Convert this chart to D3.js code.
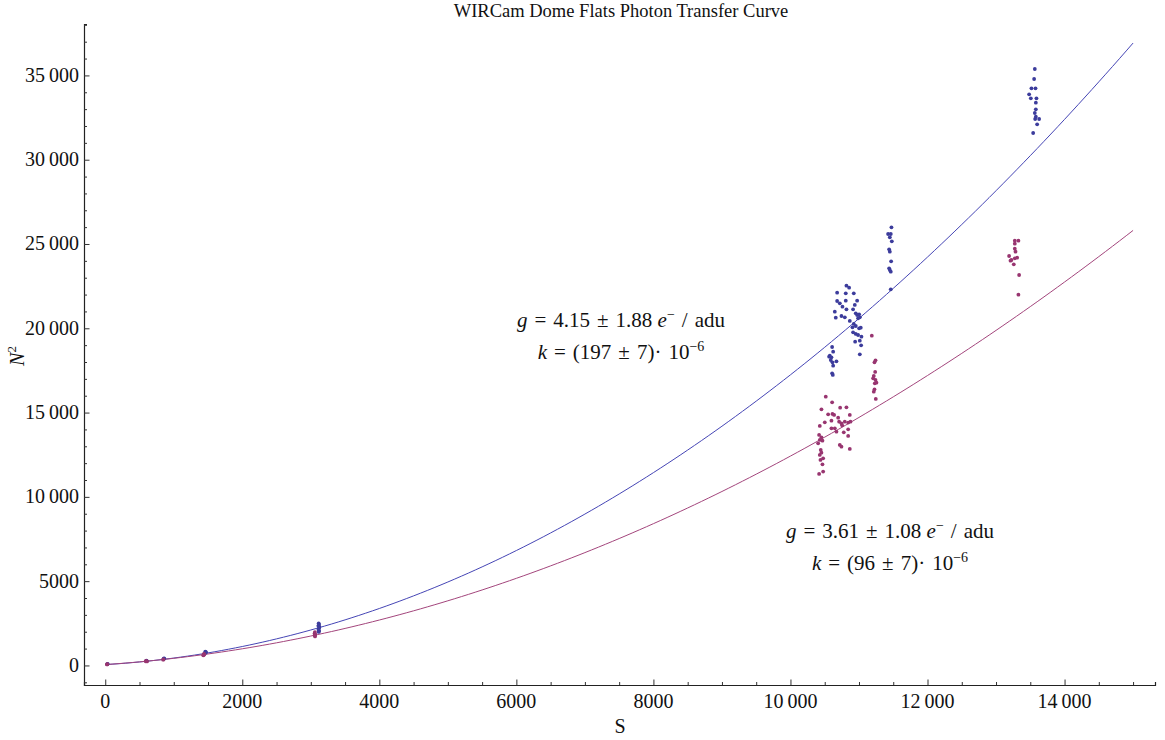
<!DOCTYPE html>
<html>
<head>
<meta charset="utf-8">
<script src="https://cdn.jsdelivr.net/npm/d3@7"></script>
<style>
  body { margin: 0; background: #fff; }
  text { font-family: "Liberation Serif", "Times New Roman", serif; fill: #111; }
</style>
</head>
<body>
<div id="chart"></div>
<script>
// chart values
const xTicks = [0, 2000, 4000, 6000, 8000, 10000, 12000, 14000];
const yTicks = [0, 5000, 10000, 15000, 20000, 25000, 30000, 35000];

// fitted curves: N^2 = offset + S/g + q*S^2
const blueFit = {offset: 50, g: 4.15, q: 1.478e-4};
const redFit = {offset: 50, g: 3.61, q: 96e-6};

// [S, N^2]
const bluePoints = [
  [30, 80], [35, 95], [605, 270], [600, 290], [850, 380], [860, 420], [855, 400],
  [1460, 820], [1465, 770], [1455, 720], [1470, 790],
  [3115, 2500], [3120, 2420], [3110, 2350], [3125, 2280], [3118, 2200], [3112, 2120], [3122, 2050], [3115, 1990],
  [10608, 18891], [10623, 18615], [10564, 18318], [10598, 18279], [10574, 18377], [10588, 18120],
  [10613, 17982], [10671, 18041], [10623, 17784], [10608, 17330], [10618, 17231],
  [10817, 22529], [10856, 22411], [10681, 22114], [10807, 22074], [10924, 22074], [10681, 21620],
  [10720, 21481], [10807, 21640], [10973, 21640], [10647, 20987], [10759, 21284], [10817, 21126],
  [10914, 21126], [10939, 21383], [10744, 20730], [10793, 20651], [10661, 20631], [10866, 20434],
  [10953, 20888], [10973, 20789], [11002, 20829], [11012, 20651], [10987, 20592], [10924, 20256],
  [10905, 20058], [10953, 20137], [11002, 19999], [11026, 20038], [10914, 19761], [10953, 19663],
  [10987, 19603], [11036, 19505], [10944, 19208], [11012, 19267], [11031, 18990], [11012, 18457],
  [11474, 25989], [11425, 25594], [11464, 25594], [11450, 25396], [11479, 25159], [11440, 24684],
  [11450, 24546], [11469, 23972], [11440, 23557], [11450, 23458], [11464, 23360], [11464, 22312],
  [13566, 35380], [13556, 34787], [13517, 34233], [13576, 34233], [13483, 33878], [13508, 33640],
  [13590, 33640], [13581, 33383], [13581, 32988], [13566, 32770], [13581, 32553], [13571, 32415],
  [13629, 32415], [13600, 32098], [13542, 31584]
];

const redPoints = [
  [30, 70], [25, 60], [600, 260], [610, 240], [590, 250], [850, 360], [845, 340],
  [1440, 680], [1435, 620], [1445, 650], [1430, 600],
  [3060, 1980], [3055, 1900], [3065, 1840], [3058, 1780], [3062, 1720],
  [11187, 19564], [11241, 18101], [11226, 17982], [11236, 17409], [11216, 17171], [11206, 17033],
  [11241, 16934], [11231, 16737], [11255, 16776], [11226, 16381], [11216, 16242], [11245, 15807],
  [10515, 15946], [10608, 15610], [10452, 15194], [10725, 15293], [10817, 15313], [10550, 14898],
  [10613, 14918], [10637, 14858], [10696, 14700], [10866, 14858], [10598, 14522], [10501, 14423],
  [10428, 14206], [10710, 14463], [10744, 14364], [10793, 14463], [10842, 14404], [10876, 14463],
  [10754, 14246], [10647, 14068], [10598, 14068], [10842, 14008], [10671, 13870], [10778, 13831],
  [10418, 13672], [10452, 13534], [10842, 13613], [10428, 13376], [10467, 13336], [10404, 13178],
  [10720, 13079], [10744, 12980], [10866, 12842], [10442, 12783], [10452, 12624], [10428, 12486],
  [10477, 12288], [10438, 12189], [10467, 11933], [10477, 11498], [10418, 11359],
  [13274, 25199], [13327, 25199], [13274, 25021], [13274, 24724], [13284, 24546], [13191, 24289],
  [13308, 24190], [13274, 24151], [13225, 24052], [13211, 24012], [13259, 23795], [13337, 23162],
  [13327, 21996]
];

const width = 1165, height = 740;

const svg = d3.select("#chart")
    .append("svg")
    .attr("width", width)
    .attr("height", height);

let x = d3.scaleLinear()
    .domain([-310, 15320])
    .range([84, 1155]);

let y = d3.scaleLinear()
    .domain([-1160, 38050])
    .range([685, 24]);

let fmt = function(d) {
    if (d >= 10000) return d3.format(",")(d).replace(",", "\u2009");
    return String(d);
};

// axes (Mathematica style: ticks pointing inward)
let xAxis = svg.append("g")
    .attr("transform", `translate(0, ${y.range()[0]})`)
    .call(d3.axisTop(x).tickValues(d3.range(0, 15001, 500)).tickSize(3).tickFormat(""));
xAxis.selectAll(".tick line")
    .attr("y2", function(d) { return xTicks.includes(d) ? -5.5 : -3; });

svg.append("g")
    .attr("transform", `translate(0, ${y.range()[0]})`)
    .selectAll("text")
    .data(xTicks)
    .enter()
    .append("text")
    .attr("x", function(d) { return x(d); })
    .attr("y", 23)
    .style("text-anchor", "middle")
    .style("font-size", "20px")
    .text(fmt);

let yAxis = svg.append("g")
    .attr("transform", `translate(${x.range()[0]}, 0)`)
    .call(d3.axisRight(y).tickValues(d3.range(-1000, 38001, 1000)).tickSize(3).tickFormat(""));
yAxis.selectAll(".tick line")
    .attr("x2", function(d) { return yTicks.includes(d) ? 5.5 : 3; });

svg.append("g")
    .selectAll("text")
    .data(yTicks)
    .enter()
    .append("text")
    .attr("x", 79)
    .attr("y", function(d) { return y(d) + 6.5; })
    .style("text-anchor", "end")
    .style("font-size", "20px")
    .text(fmt);

svg.selectAll(".domain").attr("stroke", "#222").attr("stroke-width", 1.2);
svg.selectAll(".tick line").attr("stroke", "#333");

// fitted curves
let sampleS = d3.range(0, 15001, 100);
let line = d3.line()
    .x(function(d) { return x(d[0]); })
    .y(function(d) { return y(d[1]); });

function curve(fit) {
    return sampleS.map(function(s) { return [s, fit.offset + s / fit.g + fit.q * s * s]; });
}

svg.append("path")
    .datum(curve(blueFit))
    .attr("fill", "none")
    .attr("stroke", "#4545b5")
    .attr("stroke-width", 1)
    .attr("d", line);

svg.append("path")
    .datum(curve(redFit))
    .attr("fill", "none")
    .attr("stroke", "#a3457c")
    .attr("stroke-width", 1)
    .attr("d", line);

// data points
svg.append("g")
    .selectAll("circle")
    .data(bluePoints)
    .enter()
    .append("circle")
    .attr("cx", function(d) { return x(d[0]); })
    .attr("cy", function(d) { return y(d[1]); })
    .attr("r", 1.9)
    .attr("fill", "#3c3c9c");

svg.append("g")
    .selectAll("circle")
    .data(redPoints)
    .enter()
    .append("circle")
    .attr("cx", function(d) { return x(d[0]); })
    .attr("cy", function(d) { return y(d[1]); })
    .attr("r", 1.9)
    .attr("fill", "#983570");

// titles
svg.append("text")
    .attr("x", 621)
    .attr("y", 17)
    .style("text-anchor", "middle")
    .style("font-size", "18.5px")
    .text("WIRCam Dome Flats Photon Transfer Curve");

svg.append("text")
    .attr("x", 620)
    .attr("y", 733)
    .style("text-anchor", "middle")
    .style("font-size", "20px")
    .text("S");

let ylab = svg.append("text")
    .attr("transform", "translate(24, 356) rotate(-90)")
    .style("text-anchor", "middle")
    .style("font-size", "20px");
ylab.append("tspan").style("font-style", "italic").text("N");
ylab.append("tspan").attr("dy", -8).style("font-size", "13px").text("2");

// annotations
const sp = "\u2004";
function annotate(cx, cy, g, k) {
    let t1 = svg.append("text")
        .attr("x", cx)
        .attr("y", cy)
        .style("text-anchor", "middle")
        .style("font-size", "21px");
    t1.append("tspan").style("font-style", "italic").text("g");
    t1.append("tspan").text(`${sp}=${sp}${g} `);
    t1.append("tspan").style("font-style", "italic").text("e");
    t1.append("tspan").attr("dy", -8).style("font-size", "14px").text("\u2212");
    t1.append("tspan").attr("dy", 8).text(`${sp}/${sp}adu`);

    let t2 = svg.append("text")
        .attr("x", cx)
        .attr("y", cy + 32)
        .style("text-anchor", "middle")
        .style("font-size", "21px");
    t2.append("tspan").style("font-style", "italic").text("k");
    t2.append("tspan").text(`${sp}=${sp}${k}\u00b7${sp}10`);
    t2.append("tspan").attr("dy", -8).style("font-size", "14px").text("\u22126");
}

annotate(621, 327, `4.15${sp}\u00b1${sp}1.88`, `(197${sp}\u00b1${sp}7)`);
annotate(890, 538, `3.61${sp}\u00b1${sp}1.08`, `(96${sp}\u00b1${sp}7)`);
</script>
</body>
</html>
